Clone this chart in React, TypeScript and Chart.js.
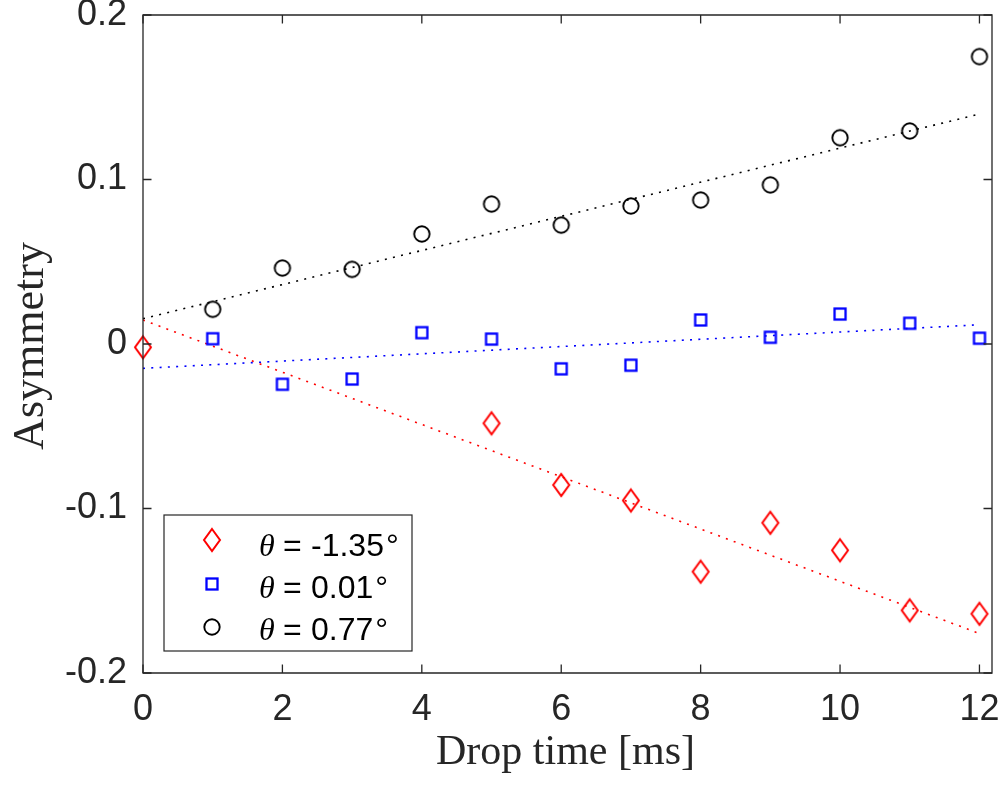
import React, { useEffect, useRef } from "react";
import { Chart, registerables } from "chart.js";

Chart.register(...registerables);

// ---- data ----
const redTimes = [0, 5, 6, 7, 8, 9, 10, 11, 12];
const redAsym = [-0.002, -0.0482, -0.0857, -0.0951, -0.1384, -0.1087, -0.1254, -0.1619, -0.164];

const blueTimes = [1, 2, 3, 4, 5, 6, 7, 8, 9, 10, 11, 12];
const blueAsym = [0.0032, -0.0245, -0.0213, 0.0069, 0.003, -0.0151, -0.0129, 0.0146, 0.0041, 0.0182, 0.0126, 0.0035];

const blackTimes = [1, 2, 3, 4, 5, 6, 7, 8, 9, 10, 11, 12];
const blackAsym = [0.0211, 0.0462, 0.0454, 0.0669, 0.0851, 0.0723, 0.0839, 0.0875, 0.0967, 0.1254, 0.1295, 0.1747];

const fitTimes = [0, 12];
const redFit = [0.0146, -0.176];
const blueFit = [-0.0148, 0.0117];
const blackFit = [0.0154, 0.1398];

const xTicks = [0, 2, 4, 6, 8, 10, 12];
const yTicks = [-0.2, -0.1, 0, 0.1, 0.2];
const xRange = [0, 12.18];
const yRange = [-0.2, 0.2];

const legendAngles = ["-1.35", "0.01", "0.77"];
const xTitle = "Drop time [ms]";
const yTitle = "Asymmetry";

const RED = "#ff0000";
const BLUE = "#0000ff";
const BLACK = "#000000";
const AXIS = "#262626";

function toXY(xs: number[], ys: number[]) {
  return xs.map((x, i) => ({ x, y: ys[i] }));
}

function makeMarker(kind: string, color: string): HTMLCanvasElement {
  const c = document.createElement("canvas");
  if (kind === "diamond") {
    c.width = 24; c.height = 28;
    const ctx = c.getContext("2d")!;
    ctx.strokeStyle = color; ctx.lineWidth = 2; ctx.lineJoin = "miter";
    ctx.beginPath();
    ctx.moveTo(12, 3);
    ctx.lineTo(20, 14);
    ctx.lineTo(12, 25);
    ctx.lineTo(4, 14);
    ctx.closePath();
    ctx.stroke();
  } else if (kind === "square") {
    c.width = 16; c.height = 16;
    const ctx = c.getContext("2d")!;
    ctx.strokeStyle = color; ctx.lineWidth = 2.3;
    ctx.strokeRect(2.5, 2.5, 11, 11);
  } else {
    c.width = 20; c.height = 20;
    const ctx = c.getContext("2d")!;
    ctx.strokeStyle = color; ctx.lineWidth = 1.9;
    ctx.beginPath();
    ctx.arc(10, 10, 7.7, 0, Math.PI * 2);
    ctx.stroke();
  }
  return c;
}

export default function App() {
  const ref = useRef<HTMLCanvasElement | null>(null);

  useEffect(() => {
    const canvas = ref.current;
    if (!canvas) return;

    const diamond = makeMarker("diamond", RED);
    const square = makeMarker("square", BLUE);
    const circle = makeMarker("circle", BLACK);
    const markers = [diamond, square, circle];

    const framePlugin = {
      id: "matlabFrame",
      afterDraw(chart: any) {
        const ctx = chart.ctx as CanvasRenderingContext2D;
        const { left, right, top, bottom } = chart.chartArea;
        const xs = chart.scales.x;
        const ys = chart.scales.y;
        const tl = 8.5;
        ctx.save();
        ctx.strokeStyle = AXIS;
        ctx.lineWidth = 1.3;
        ctx.beginPath();
        ctx.rect(left, top, right - left, bottom - top);
        ctx.stroke();
        ctx.beginPath();
        xTicks.forEach((v) => {
          const px = xs.getPixelForValue(v);
          ctx.moveTo(px, bottom);
          ctx.lineTo(px, bottom - tl);
          ctx.moveTo(px, top);
          ctx.lineTo(px, top + tl);
        });
        yTicks.forEach((v) => {
          const py = ys.getPixelForValue(v);
          ctx.moveTo(left, py);
          ctx.lineTo(left + tl, py);
          ctx.moveTo(right, py);
          ctx.lineTo(right - tl, py);
        });
        ctx.stroke();

        // axis titles
        ctx.fillStyle = AXIS;
        ctx.font = '42px "Liberation Serif"';
        ctx.textAlign = "center";
        ctx.textBaseline = "alphabetic";
        ctx.fillText(xTitle, (left + right) / 2 - 2, 764);
        ctx.save();
        ctx.translate(43, (top + bottom) / 2 + 2);
        ctx.rotate(-Math.PI / 2);
        ctx.font = '44px "Liberation Serif"';
        ctx.fillText(yTitle, 0, 0);
        ctx.restore();

        // legend
        const bx = 164, by = 515, bw = 248, bh = 136;
        ctx.fillStyle = "#ffffff";
        ctx.fillRect(bx, by, bw, bh);
        ctx.strokeStyle = AXIS;
        ctx.lineWidth = 1.2;
        ctx.strokeRect(bx, by, bw, bh);
        const markerY = [540, 584, 627];
        const baseY = [556, 597.5, 640];
        legendAngles.forEach((a, i) => {
          const m = markers[i];
          ctx.drawImage(m, 212 - m.width / 2, markerY[i] - m.height / 2);
          ctx.fillStyle = BLACK;
          ctx.textAlign = "left";
          ctx.textBaseline = "alphabetic";
          ctx.font = 'italic 32px "Liberation Serif"';
          ctx.fillText("\u03b8", 259, baseY[i]);
          ctx.font = '32px "Liberation Sans"';
          ctx.fillText("=", 283, baseY[i]);
          ctx.fillText(a, 311, baseY[i]);
          const w = ctx.measureText(a).width;
          ctx.fillText("\u00b0", 311 + w + 2, baseY[i]);
        });
        ctx.restore();
      },
    };

    const tickFont = { family: "Liberation Sans", size: 36 };

    const chart = new Chart(canvas, {
      type: "scatter",
      data: {
        datasets: [
          {
            label: "red",
            data: toXY(redTimes, redAsym),
            pointStyle: diamond as any,
            pointRadius: 10,
            showLine: false,
            clip: false,
          },
          {
            label: "blue",
            data: toXY(blueTimes, blueAsym),
            pointStyle: square as any,
            pointRadius: 8,
            showLine: false,
            clip: false,
          },
          {
            label: "black",
            data: toXY(blackTimes, blackAsym),
            pointStyle: circle as any,
            pointRadius: 9,
            showLine: false,
            clip: false,
          },
          {
            label: "red fit",
            data: toXY(fitTimes, redFit),
            showLine: true,
            pointRadius: 0,
            borderColor: RED,
            borderWidth: 1.6,
            borderDash: [2, 6.3],
          },
          {
            label: "blue fit",
            data: toXY(fitTimes, blueFit),
            showLine: true,
            pointRadius: 0,
            borderColor: BLUE,
            borderWidth: 1.6,
            borderDash: [2, 6.3],
          },
          {
            label: "black fit",
            data: toXY(fitTimes, blackFit),
            showLine: true,
            pointRadius: 0,
            borderColor: BLACK,
            borderWidth: 1.6,
            borderDash: [2, 6.3],
          },
        ],
      },
      options: {
        animation: false,
        responsive: false,
        devicePixelRatio: 1,
        events: [],
        layout: { padding: { top: 15, right: 11, left: 0, bottom: 0 } },
        plugins: {
          legend: { display: false },
          tooltip: { enabled: false },
          title: { display: false },
        },
        scales: {
          x: {
            type: "linear",
            min: xRange[0],
            max: xRange[1],
            grid: { display: false, drawTicks: false },
            border: { display: false },
            ticks: {
              font: tickFont,
              color: AXIS,
              padding: 15,
              maxRotation: 0,
              autoSkip: false,
              callback: (v: any) => String(v),
            },
            afterBuildTicks: (s: any) => {
              s.ticks = xTicks.map((v) => ({ value: v }));
            },
            afterFit: (s: any) => {
              s.height = 112;
              s.paddingLeft = 0;
              s.paddingRight = 0;
            },
          },
          y: {
            type: "linear",
            min: yRange[0],
            max: yRange[1],
            grid: { display: false, drawTicks: false },
            border: { display: false },
            ticks: {
              font: tickFont,
              color: AXIS,
              padding: 16,
              autoSkip: false,
              callback: (v: any) => (Math.abs(v) < 1e-9 ? "0" : Number(v).toFixed(1)),
            },
            afterBuildTicks: (s: any) => {
              s.ticks = yTicks.map((v) => ({ value: v }));
            },
            afterFit: (s: any) => {
              s.width = 143;
              s.paddingTop = 0;
              s.paddingBottom = 0;
            },
          },
        },
      },
      plugins: [framePlugin],
    });

    return () => chart.destroy();
  }, []);

  return (
    <div style={{ position: "absolute", left: 0, top: 0, width: 1003, height: 785, background: "#fff" }}>
      <canvas ref={ref} width={1003} height={785} style={{ width: 1003, height: 785, display: "block" }} />
    </div>
  );
}
